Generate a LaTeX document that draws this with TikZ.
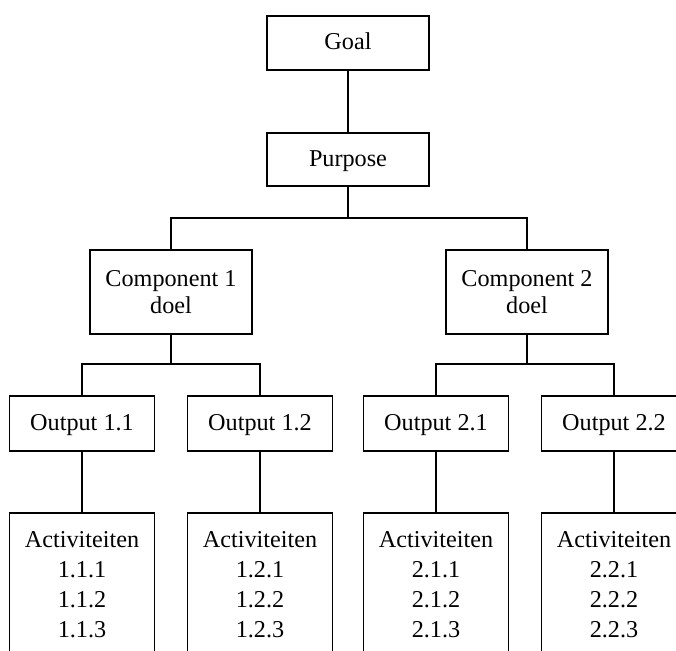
\documentclass[tikz,border=0pt]{standalone}
\usepackage{fontspec}
\setmainfont{Liberation Serif}
\begin{document}
\begin{tikzpicture}[x=1pt,y=-1pt,
  box/.style={draw, line width=1.6pt, rectangle, inner sep=0pt, align=center},
  onerow/.style={box, text height=17pt, text depth=4pt,
    font=\fontsize{24.2pt}{29pt}\selectfont},
  topbox/.style={onerow, minimum width=162pt, minimum height=54pt},
  compbox/.style={box, minimum width=162pt, minimum height=84pt,
    font=\fontsize{24.2pt}{27pt}\selectfont},
  outbox/.style={onerow, minimum width=145pt, minimum height=55pt},
  actbox/.style={box, minimum width=145pt, inner ysep=18.5pt, anchor=north,
    font=\fontsize{24.2pt}{30pt}\selectfont},
  link/.style={draw, line width=1.3pt}
]
\useasboundingbox (0,0) rectangle (676,650);

% top of the tree
\node[topbox] (goal) at (348,43) {Goal};
\node[topbox, minimum height=53pt] (purpose) at (348,159.5) {Purpose};

% components
\node[compbox] (comp1) at (171,292) {Component 1\\doel};
\node[compbox] (comp2) at (527,292) {Component 2\\doel};

% outputs
\node[outbox] (out11) at (82,423.5) {Output 1.1};
\node[outbox] (out12) at (260,423.5) {Output 1.2};
\node[outbox] (out21) at (436,423.5) {Output 2.1};
\node[outbox] (out22) at (614,423.5) {Output 2.2};

% activities (boxes run past the lower edge)
\node[actbox] (act11) at (82,512) {Activiteiten\\1.1.1\\1.1.2\\1.1.3};
\node[actbox] (act12) at (260,512) {Activiteiten\\1.2.1\\1.2.2\\1.2.3};
\node[actbox] (act21) at (436,512) {Activiteiten\\2.1.1\\2.1.2\\2.1.3};
\node[actbox] (act22) at (614,512) {Activiteiten\\2.2.1\\2.2.2\\2.2.3};

% junction points of the branches
\coordinate (j0) at (348,218);
\coordinate (j1) at (171,364);
\coordinate (j2) at (527,364);

% connectors
\draw[link] (goal) -- (purpose);
\draw[link] (purpose.south) -- (j0);
\draw[link] (comp1.north) |- (j0) -| (comp2.north);
\draw[link] (comp1.south) -- (j1);
\draw[link] (out11.north) |- (j1) -| (out12.north);
\draw[link] (comp2.south) -- (j2);
\draw[link] (out21.north) |- (j2) -| (out22.north);
\draw[link] (out11) -- (act11);
\draw[link] (out12) -- (act12);
\draw[link] (out21) -- (act21);
\draw[link] (out22) -- (act22);
\end{tikzpicture}
\end{document}
